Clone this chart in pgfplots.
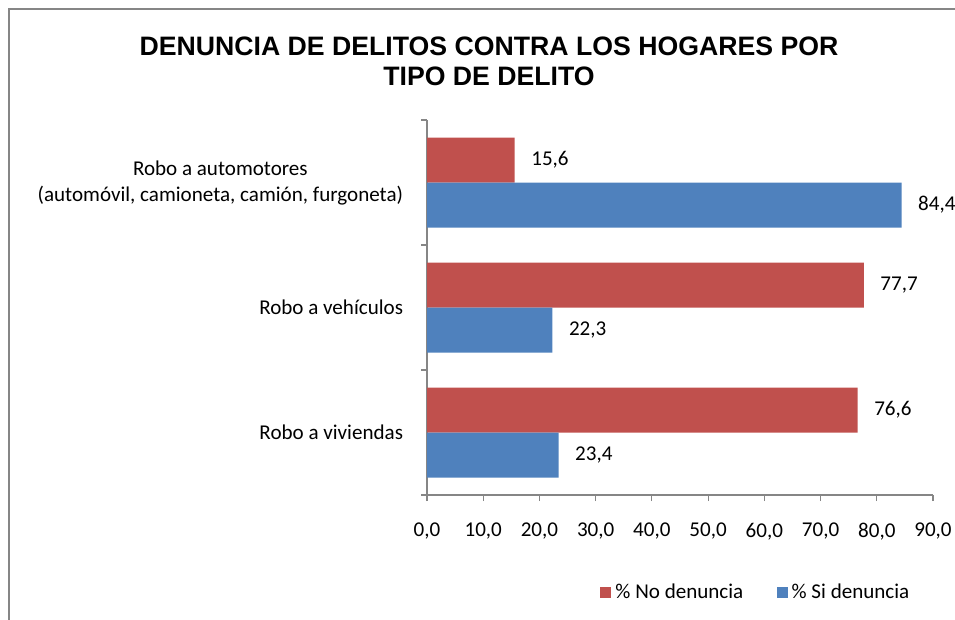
\documentclass[border=0pt]{standalone}
\usepackage{pgfplots}
\pgfplotsset{compat=1.18}
\usepackage{fontspec}
\setmainfont{Carlito}
\newfontfamily\arialfont{Liberation Sans}
\definecolor{cred}{RGB}{192,80,77}
\definecolor{cblue}{RGB}{79,129,189}
\definecolor{axgray}{RGB}{134,134,134}
\begin{document}
\fontsize{15.8pt}{19.5pt}\selectfont
\begin{tikzpicture}
\path[use as bounding box] (0,0) rectangle (716.25pt,464.25pt);
\draw[axgray,line width=1.6pt] (6.75pt,-1pt) -- (6.75pt,457.5pt) -- (717pt,457.5pt);
\node[align=center,font={\arialfont\bfseries\fontsize{20pt}{22.5pt}\selectfont}] at (366.75pt,418.5pt) {DENUNCIA DE DELITOS CONTRA LOS HOGARES POR\\TIPO DE DELITO};
\begin{axis}[
  at={(320.25pt,93pt)}, anchor=south west,
  scale only axis, width=379.5pt, height=281.25pt,
  xbar, bar width=33.75pt,
  xmin=0, xmax=90, ymin=-0.5, ymax=2.5,
  axis lines*=left,
  axis line style={axgray,line width=0.9pt},
  xtick={0,10,...,90},
  ytick={0,1,2},
  yticklabels={Robo a viviendas,Robo a vehículos,{Robo a automotores\\(automóvil, camioneta, camión, furgoneta)}},
  yticklabel style={align=center,xshift=-8pt,font={\fontsize{15.8pt}{19.5pt}\selectfont}},
  minor ytick={-0.5,0.5,1.5,2.5},
  major y tick style={draw=none},
  minor tick length=4.5pt,
  major tick length=4.5pt,
  tick align=outside,
  tick style={axgray,line width=0.9pt},
  xticklabel style={yshift=-11pt},
  /pgf/number format/.cd, use comma, fixed, fixed zerofill, precision=1, assume math mode=true,
  /pgfplots/.cd,
  xticklabel={\pgfmathprintnumber{\tick}},
  nodes near coords,
  nodes near coords style={anchor=west,xshift=7pt,text=black},
  every node near coord/.append style={/pgf/number format/.cd, use comma, fixed, fixed zerofill, precision=1, assume math mode=true},
  clip=false,
  legend columns=2,
  legend style={at={(0.652,-0.261)},anchor=center,draw=none,fill=none,
    /tikz/every even column/.append style={column sep=22pt},
    nodes={inner xsep=3pt}},
  legend image code/.code={\fill[#1] (0pt,-4pt) rectangle (8.25pt,4.25pt);},
]
\addplot[fill=cred,draw=none,bar shift=16.875pt] coordinates {(76.6,0) (77.7,1) (15.6,2)};
\addplot[fill=cblue,draw=none,bar shift=-16.875pt] coordinates {(23.4,0) (22.3,1) (84.4,2)};
\legend{\% No denuncia,\% Si denuncia}
\end{axis}
\end{tikzpicture}
\end{document}
